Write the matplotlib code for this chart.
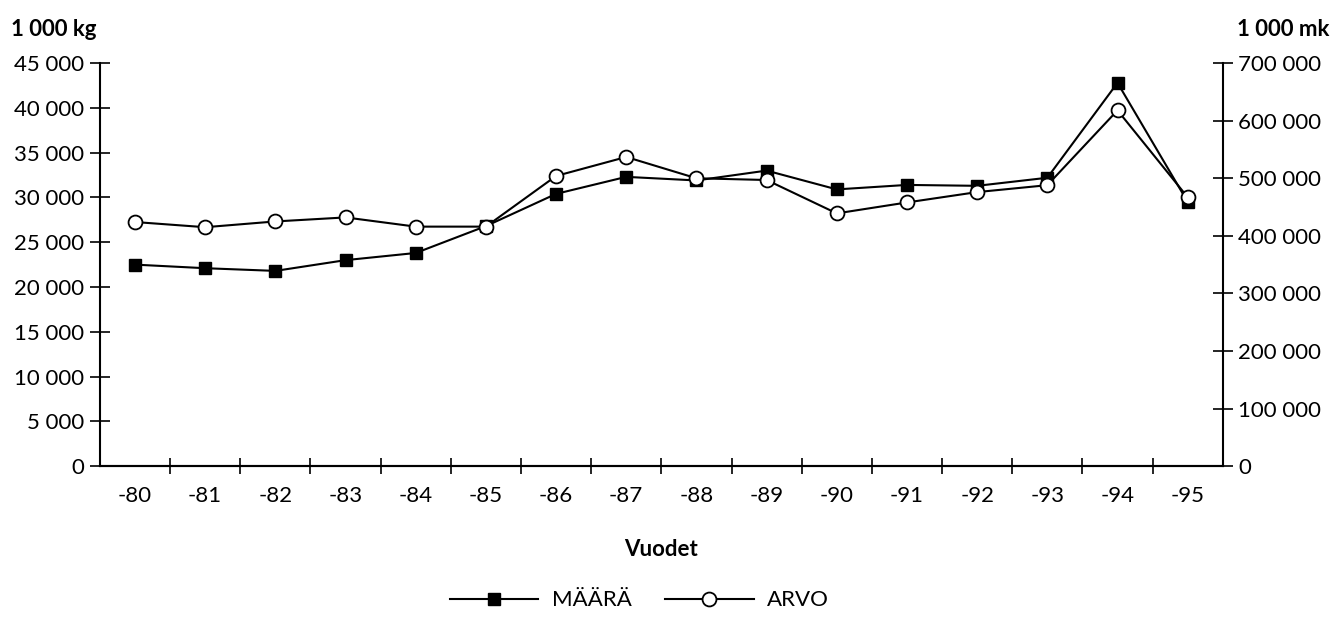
import numpy as np
import matplotlib.pyplot as plt
from matplotlib.ticker import FuncFormatter

plt.rcParams['font.family'] = ['Lato', 'DejaVu Sans']

## vuodet ja sarjat
years = ['-80', '-81', '-82', '-83', '-84', '-85', '-86', '-87',
         '-88', '-89', '-90', '-91', '-92', '-93', '-94', '-95']
maara = [22500, 22100, 21800, 23000, 23800, 26800, 30400, 32300,
         31900, 33000, 30900, 31400, 31300, 32200, 42800, 29500]   # 1 000 kg
arvo = [424000, 415000, 425000, 432000, 416000, 416000, 504000, 537000,
        500000, 497000, 439000, 458000, 476000, 488000, 618000, 467000]   # 1 000 mk

left_ticks = np.arange(0, 45001, 5000)
right_ticks = np.arange(0, 700001, 100000)


def thousands(v, pos=None):
    return f'{int(v):,}'.replace(',', ' ')


fig = plt.figure(figsize=(13.32, 6.19), dpi=100)
ax = fig.add_axes([0.075, 0.247, 0.843, 0.651])
ax2 = ax.twinx()

x = np.arange(len(years))
l1, = ax.plot(x, maara, color='black', lw=1.5, marker='s', ms=8.5,
              mfc='black', mec='black', label='MÄÄRÄ', zorder=3)
l2, = ax2.plot(x, arvo, color='black', lw=1.5, marker='o', ms=10,
               mfc='white', mec='black', mew=1.3, label='ARVO', zorder=3)

ax.set_xlim(-0.5, len(years) - 0.5)
ax.set_ylim(0, 45000)
ax2.set_ylim(0, 700000)

for a in (ax, ax2):
    a.spines['top'].set_visible(False)
    for s in a.spines.values():
        s.set_linewidth(1.5)
ax2.spines['left'].set_visible(False)
ax.spines['right'].set_visible(False)

ax.set_yticks(left_ticks)
ax.yaxis.set_major_formatter(FuncFormatter(thousands))
ax2.set_yticks(right_ticks)
ax2.yaxis.set_major_formatter(FuncFormatter(thousands))

# x: viivat välien rajoilla, tekstit keskellä
ax.set_xticks(np.arange(0.5, len(years) - 0.5, 1.0))
ax.set_xticklabels([])
ax.set_xticks(x, minor=True)
ax.set_xticklabels(years, minor=True)
ax.tick_params(axis='x', which='major', direction='inout', length=12, width=1.2)
ax.tick_params(axis='x', which='minor', length=0, labelsize=16, pad=14)

ax.tick_params(axis='y', direction='inout', length=14, width=1.2, labelsize=16, pad=4)
ax2.tick_params(axis='y', direction='inout', length=14, width=1.2, labelsize=16, pad=4)

ax.set_xlabel('Vuodet', fontsize=16, fontweight='bold', labelpad=24)

fig.text(0.008, 0.952, '1 000 kg', fontsize=16, fontweight='bold', ha='left', va='center')
fig.text(0.998, 0.952, '1 000 mk', fontsize=16, fontweight='bold', ha='right', va='center')

fig.legend(handles=[l1, l2], loc='center', bbox_to_anchor=(0.48, 0.03),
           ncol=2, frameon=False, fontsize=16, handlelength=4,
           columnspacing=1.5, handletextpad=0.6)

plt.savefig('out.png', dpi=100)
